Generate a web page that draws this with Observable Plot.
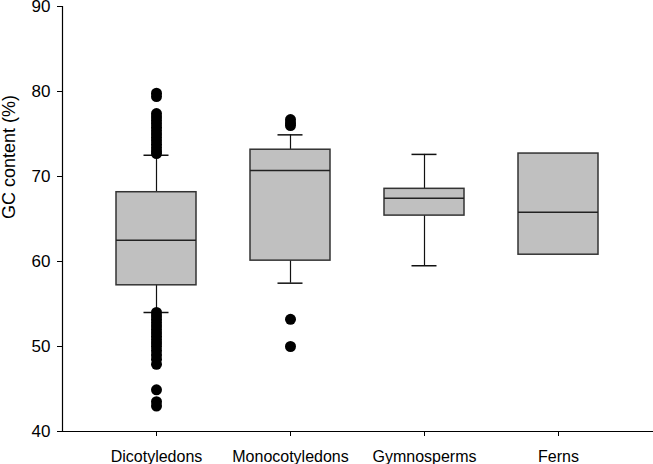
<!DOCTYPE html>
<html>
<head>
<meta charset="utf-8">
<script src="https://cdn.jsdelivr.net/npm/d3@7"></script>
<script src="https://cdn.jsdelivr.net/npm/@observablehq/plot@0.6"></script>
<style>
  html, body { margin: 0; padding: 0; background: white; }
</style>
</head>
<body>
<div id="chart"></div>
<script>
const categories = ["Dicotyledons", "Monocotyledons", "Gymnosperms", "Ferns"];
const q1 = [57.2, 60.1, 65.4, 60.8];
const medians = [62.5, 70.7, 67.45, 65.8];
const q3 = [68.15, 73.15, 68.55, 72.7];
const whiskerLow = [54.0, 57.45, 59.5, null];
const whiskerHigh = [72.5, 74.9, 72.6, null];
const dicotOutliers = [79.8, 79.4, 77.4, 77.0, 76.6, 76.2, 75.8, 75.4, 75.0, 74.6, 74.2, 73.8, 73.4, 73.0, 72.7,
  54.0, 53.6, 53.2, 52.8, 52.4, 52.0, 51.6, 51.2, 50.8, 50.4, 50.0, 49.5, 49.0, 48.5, 47.9, 44.9, 43.5, 43.0];
const monocotOutliers = [76.7, 76.3, 76.0, 53.2, 50.0];
const gymnospermOutliers = [];
const fernOutliers = [];
const yTicks = [40, 50, 60, 70, 80, 90];
const yLabel = "GC content (%)";

const boxes = categories.map((c, i) => ({
  category: c, q1: q1[i], median: medians[i], q3: q3[i], lo: whiskerLow[i], hi: whiskerHigh[i]
}));
const whiskers = boxes.filter(d => d.lo != null);
const outlierLists = [dicotOutliers, monocotOutliers, gymnospermOutliers, fernOutliers];
const outliers = outlierLists.flatMap((list, i) => list.map(v => ({category: categories[i], value: v})));

const chart = Plot.plot({
  width: 653,
  height: 464,
  marginLeft: 62,
  marginTop: 6,
  marginBottom: 33,
  marginRight: 1,
  style: {fontFamily: "'Liberation Sans', Arial, sans-serif", fontSize: "16px", color: "black", background: "white", overflow: "visible"},
  x: {domain: categories, paddingInner: 0.403, paddingOuter: 0.4015, label: null},
  y: {domain: [40, 90], label: null},
  marks: [
    Plot.frame({anchor: "left", stroke: "black", strokeWidth: 1.2}),
    Plot.frame({anchor: "bottom", stroke: "black", strokeWidth: 1.2}),
    Plot.axisY({ticks: yTicks, tickSize: 5, tickPadding: 7, label: null, fontSize: 17, stroke: "black", strokeOpacity: 1}),
    Plot.axisX({tickSize: 5, tickPadding: 14, label: null, fontSize: 16, stroke: "black", strokeOpacity: 1}),
    Plot.text([yLabel], {frameAnchor: "left", rotate: -90, dx: -53, fontSize: 18, fill: "black"}),
    Plot.ruleX(whiskers, {x: "category", y1: "lo", y2: "hi", stroke: "#111", strokeWidth: 1.2}),
    Plot.tickY(whiskers, {x: "category", y: "lo", stroke: "#111", strokeWidth: 1.5, insetLeft: 27.5, insetRight: 27.5}),
    Plot.tickY(whiskers, {x: "category", y: "hi", stroke: "#111", strokeWidth: 1.5, insetLeft: 27.5, insetRight: 27.5}),
    Plot.barY(boxes, {x: "category", y1: "q1", y2: "q3", fill: "#c0c0c0", stroke: "#333", strokeWidth: 1.5}),
    Plot.tickY(boxes, {x: "category", y: "median", stroke: "#222", strokeWidth: 1.5}),
    Plot.dot(outliers, {x: "category", y: "value", r: 5.5, fill: "black", stroke: "none"})
  ]
});
document.getElementById("chart").appendChild(chart);
</script>
</body>
</html>
